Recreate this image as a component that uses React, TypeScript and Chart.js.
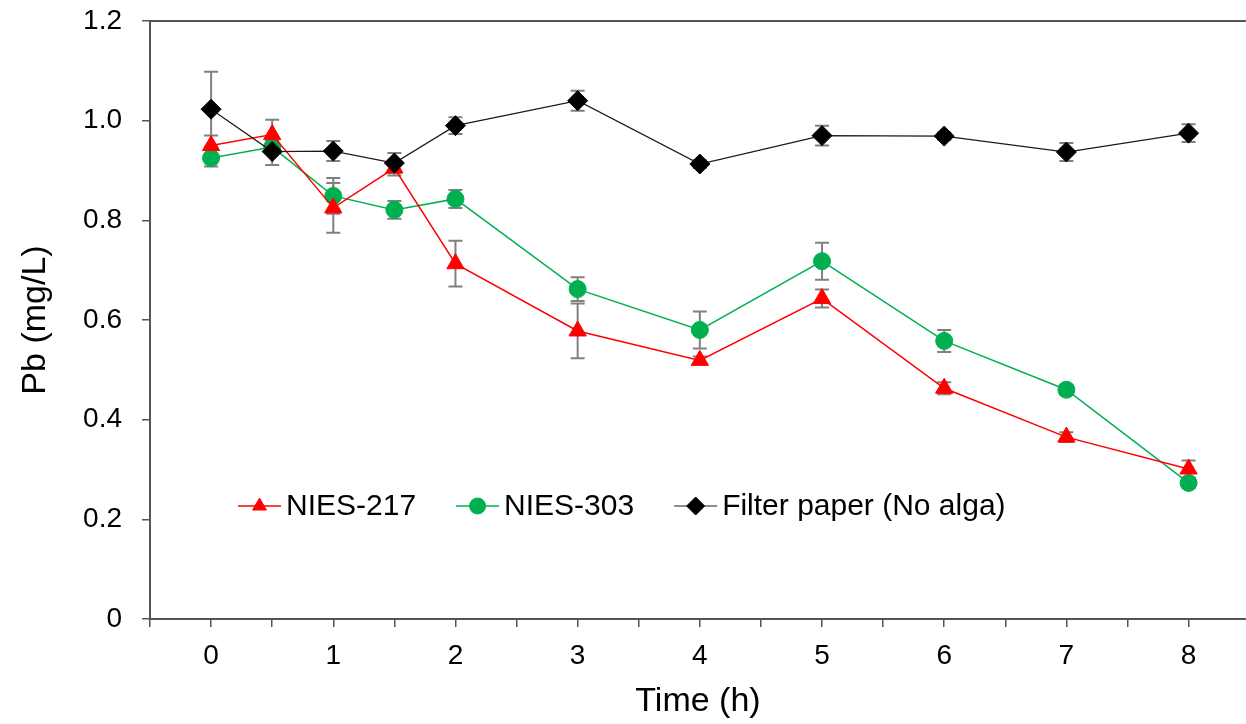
import React, { useEffect, useRef } from 'react';
import { Chart, registerables } from 'chart.js';
import { drawPoint } from 'chart.js/helpers';

Chart.register(...registerables);

const times = [0, 0.5, 1, 1.5, 2, 3, 4, 5, 6, 7, 8];

const nies217 = [0.950, 0.972, 0.825, 0.905, 0.713, 0.578, 0.519, 0.643, 0.463, 0.365, 0.301];
const nies217Err = [0.02, 0.03, 0.05, 0.015, 0.046, 0.055, 0.008, 0.018, 0.012, 0.01, 0.017];

const nies303 = [0.925, 0.947, 0.849, 0.821, 0.843, 0.662, 0.580, 0.718, 0.558, 0.460, 0.273];
const nies303Err = [0.017, 0.012, 0.036, 0.018, 0.018, 0.024, 0.037, 0.037, 0.022, 0.01, 0.01];

const filterPaper = [1.023, 0.938, 0.939, 0.915, 0.990, 1.040, 0.913, 0.970, 0.969, 0.937, 0.975];
const filterPaperErr = [0.075, 0.027, 0.02, 0.02, 0.017, 0.02, 0.008, 0.02, 0.008, 0.018, 0.018];

const seriesLabels = ['NIES-217', 'NIES-303', 'Filter paper (No alga)'];

const FONT = "'Liberation Sans', Arial, sans-serif";
const AXIS_COLOR = '#555555';

const toPoints = (ys: number[]) => ys.map((y, i) => ({ x: times[i], y }));

const errorBarPlugin = {
  id: 'errorBars',
  beforeDatasetsDraw(chart: any) {
    const { ctx } = chart;
    const xs = chart.scales.x;
    const ys = chart.scales.y;
    ctx.save();
    ctx.strokeStyle = '#808080';
    ctx.lineWidth = 2;
    const cap = 7;
    chart.data.datasets.forEach((ds: any) => {
      const errs: number[] = ds.errors;
      if (!errs) return;
      ds.data.forEach((p: any, j: number) => {
        const x = xs.getPixelForValue(p.x);
        const yt = ys.getPixelForValue(p.y + errs[j]);
        const yb = ys.getPixelForValue(p.y - errs[j]);
        ctx.beginPath();
        ctx.moveTo(x, yt);
        ctx.lineTo(x, yb);
        ctx.moveTo(x - cap, yt);
        ctx.lineTo(x + cap, yt);
        ctx.moveTo(x - cap, yb);
        ctx.lineTo(x + cap, yb);
        ctx.stroke();
      });
    });
    ctx.restore();
  },
};

const frameAndLegendPlugin = {
  id: 'frameAndLegend',
  afterDraw(chart: any) {
    const { ctx, chartArea } = chart;
    ctx.save();
    ctx.strokeStyle = AXIS_COLOR;
    ctx.lineWidth = 2;
    ctx.beginPath();
    ctx.moveTo(chartArea.left, chartArea.top);
    ctx.lineTo(chartArea.right, chartArea.top);
    ctx.stroke();

    const opts = chart.options.plugins.frameAndLegend;
    let x = opts.x;
    const y = opts.y;
    ctx.font = `${opts.fontSize}px ${FONT}`;
    ctx.textBaseline = 'middle';
    ctx.textAlign = 'left';
    chart.data.datasets
      .slice()
      .sort((a: any, b: any) => a.legendIndex - b.legendIndex)
      .forEach((ds: any) => {
        ctx.strokeStyle = ds.borderColor;
        ctx.lineWidth = ds.borderWidth;
        ctx.beginPath();
        ctx.moveTo(x, y);
        ctx.lineTo(x + opts.lineLen, y);
        ctx.stroke();
        ctx.fillStyle = ds.pointBackgroundColor;
        ctx.strokeStyle = ds.pointBorderColor;
        ctx.lineWidth = 1;
        drawPoint(ctx, { pointStyle: ds.pointStyle, radius: ds.legendRadius, rotation: 0, borderWidth: 1 }, x + opts.lineLen / 2, y);
        ctx.fillStyle = '#000';
        const tx = x + opts.lineLen + opts.textGap;
        ctx.fillText(ds.label, tx, y + 1);
        x = tx + ctx.measureText(ds.label).width + opts.itemGap;
      });
    ctx.restore();
  },
};

export default function App() {
  const ref = useRef<HTMLCanvasElement | null>(null);

  useEffect(() => {
    if (!ref.current) return;
    const chart = new Chart(ref.current, {
      type: 'line',
      data: {
        datasets: [
          {
            label: seriesLabels[2],
            data: toPoints(filterPaper),
            errors: filterPaperErr,
            legendIndex: 2,
            legendRadius: 9,
            order: 0,
            borderColor: '#1a1a1a',
            borderWidth: 1.2,
            pointStyle: 'rectRot',
            pointRadius: 10,
            pointBackgroundColor: '#000000',
            pointBorderColor: '#000000',
            pointBorderWidth: 1,
          } as any,
          {
            label: seriesLabels[0],
            data: toPoints(nies217),
            errors: nies217Err,
            legendIndex: 0,
            legendRadius: 8,
            order: 1,
            borderColor: '#ff0000',
            borderWidth: 1.5,
            pointStyle: 'triangle',
            pointRadius: 10,
            pointBackgroundColor: '#ff0000',
            pointBorderColor: '#ff0000',
            pointBorderWidth: 1,
          } as any,
          {
            label: seriesLabels[1],
            data: toPoints(nies303),
            errors: nies303Err,
            legendIndex: 1,
            legendRadius: 8,
            order: 2,
            borderColor: '#00b050',
            borderWidth: 1.5,
            pointStyle: 'circle',
            pointRadius: 8.5,
            pointBackgroundColor: '#00b050',
            pointBorderColor: '#00b050',
            pointBorderWidth: 1,
          } as any,
        ],
      },
      options: {
        animation: false,
        responsive: false,
        layout: { autoPadding: false, padding: { top: 21, right: 0, left: 0, bottom: 0 } },
        plugins: {
          legend: { display: false },
          tooltip: { enabled: false },
          frameAndLegend: { x: 238, y: 506, fontSize: 30, lineLen: 43, textGap: 5, itemGap: 40 },
        } as any,
        scales: {
          x: {
            type: 'linear',
            min: -0.5,
            max: 8.47,
            afterFit: (s: any) => { s.height = 105; },
            ticks: {
              stepSize: 0.5,
              includeBounds: false,
              autoSkip: false,
              maxRotation: 0,
              padding: 12,
              color: '#000',
              font: { family: FONT, size: 28 },
              callback: (v: any) => (Number.isInteger(Number(v)) ? String(v) : ''),
            },
            grid: { drawOnChartArea: false, drawTicks: true, tickLength: 8, color: AXIS_COLOR, lineWidth: 1.5 },
            border: { display: true, color: AXIS_COLOR, width: 2 },
            title: { display: true, text: 'Time (h)', color: '#000', font: { family: FONT, size: 34 }, padding: { top: 0, bottom: 2 } },
          },
          y: {
            type: 'linear',
            min: 0,
            max: 1.2,
            afterFit: (s: any) => { s.width = 150; },
            ticks: {
              stepSize: 0.2,
              padding: 20,
              color: '#000',
              font: { family: FONT, size: 28, lineHeight: 0.05 },
              callback: (v: any) => (Math.abs(Number(v)) < 1e-9 ? '0' : Number(v).toFixed(1)),
            },
            grid: { drawOnChartArea: false, drawTicks: true, tickLength: 8, color: AXIS_COLOR, lineWidth: 1.5 },
            border: { display: true, color: AXIS_COLOR, width: 2 },
            title: { display: true, text: 'Pb (mg/L)', color: '#000', font: { family: FONT, size: 34 }, padding: { top: 15, bottom: 0 } },
          },
        },
      } as any,
      plugins: [errorBarPlugin, frameAndLegendPlugin],
    });
    return () => chart.destroy();
  }, []);

  return (
    <div style={{ position: 'absolute', left: 0, top: 0, width: 1246, height: 724, background: '#fff' }}>
      <canvas ref={ref} width={1246} height={724} style={{ width: 1246, height: 724, display: 'block' }} />
    </div>
  );
}
